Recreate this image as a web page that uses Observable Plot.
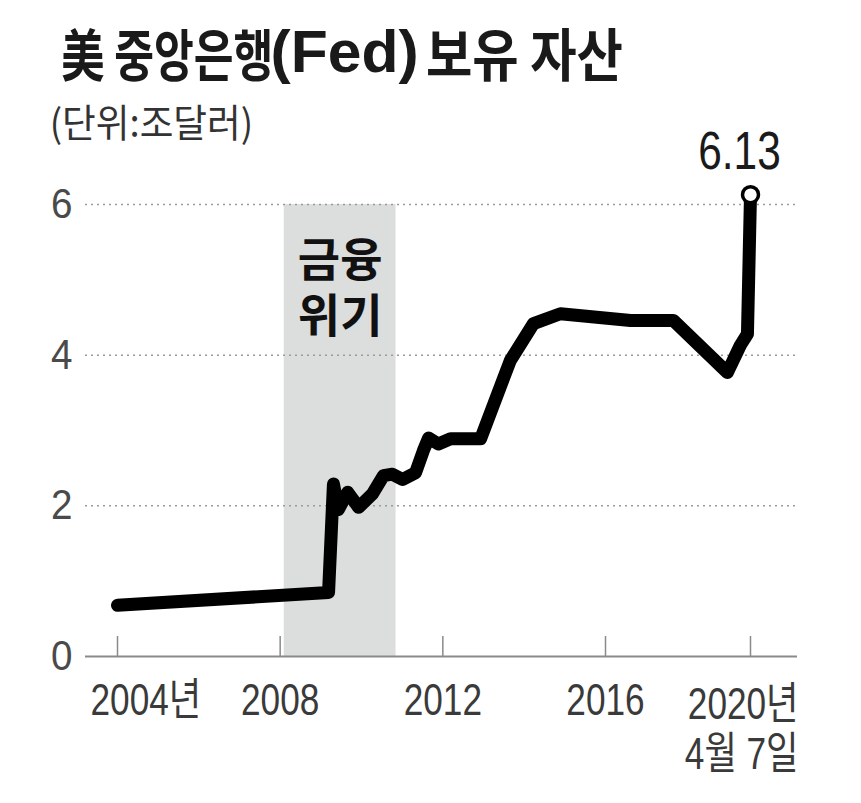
<!DOCTYPE html>
<html><head><meta charset="utf-8">
<script src="https://cdn.jsdelivr.net/npm/d3@7"></script>
<script src="https://cdn.jsdelivr.net/npm/@observablehq/plot@0.6"></script>
<style>
body{margin:0;background:#fff;}
#chart{width:861px;height:803px;overflow:hidden;}
</style></head>
<body>
<div id="chart"></div>
<script>
// ---- data ----
const years  = [2004.00, 2009.19, 2009.31, 2009.43, 2009.66, 2009.93, 2010.27, 2010.54, 2010.76, 2011.01, 2011.33, 2011.52, 2011.65, 2011.89, 2012.19, 2012.93, 2013.47, 2013.66, 2014.23, 2014.89, 2016.74, 2018.00, 2019.59, 2019.97, 2020.18, 2020.27];
const assets = [0.68, 0.85, 2.29, 1.95, 2.18, 1.98, 2.16, 2.40, 2.42, 2.35, 2.44, 2.73, 2.90, 2.82, 2.89, 2.89, 3.66, 3.93, 4.42, 4.55, 4.46, 4.46, 3.77, 4.13, 4.28, 6.13];
const yTicks = [0, 2, 4, 6];
const gridValues = [2, 4, 6];
const tickYears = [2004, 2008, 2012, 2016, 2020.27];
const tickLabels = ["2004년", "2008", "2012", "2016", "2020년\n4월 7일"];
const crisisStart = [2008.1];
const crisisEnd = [2010.85];
const crisisLabel = ["금융\n위기"];
const crisisLabelY = [4.92];
const titleParts = ["美 중앙은행", "(Fed)", "보유 자산"];
const subtitle = "(단위:조달러)";

const series = years.map((x, i) => ({x, y: assets[i]}));
const last = series[series.length - 1];
const ticks = tickYears.map((x, i) => ({x, label: tickLabels[i]}));
const crisis = crisisStart.map((s, i) => ({s, e: crisisEnd[i], label: crisisLabel[i], ly: crisisLabelY[i]}));

const sans = "'Liberation Sans', 'Noto Sans CJK KR', sans-serif";
const plot = Plot.plot({
  width: 861,
  height: 803,
  marginTop: 204,
  marginBottom: 147,
  marginLeft: 85,
  marginRight: 64,
  style: {background: "#fff", overflow: "visible"},
  x: {type: "linear", domain: [2004, 2016, 2020.27], range: [117, 605, 750], axis: null},
  y: {domain: [0, 6], axis: null},
  marks: [
    Plot.rect(crisis, {x1: "s", x2: "e", y1: 0, y2: 6, fill: "#dcdddd"}),
    Plot.ruleY(gridValues, {stroke: "#9a9a9a", strokeWidth: 1.5, strokeDasharray: "2,4"}),
    Plot.ruleY([0], {stroke: "#8a8a8a", strokeWidth: 1.8}),
    Plot.ruleX(ticks, {x: "x", y1: 0, y2: 0, insetTop: -20, stroke: "#8a8a8a", strokeWidth: 1.5}),
    // text mark 0: y labels
    Plot.text(yTicks, {y: d => d, text: d => String(d), frameAnchor: "left", textAnchor: "end", dx: -13,
      fontFamily: sans, fontSize: 42, fill: "#4a4a4a"}),
    // text marks 1-3: x labels
    Plot.text(ticks.slice(0, 1), {x: "x", y: 0, text: "label", textAnchor: "start", dx: -27, dy: 27, lineAnchor: "top",
      fontFamily: sans, fontSize: 44, fill: "#3a3a3a"}),
    Plot.text(ticks.slice(1, -1), {x: "x", y: 0, text: "label", textAnchor: "middle", dy: 27, lineAnchor: "top",
      fontFamily: sans, fontSize: 44, fill: "#3a3a3a"}),
    Plot.text(ticks.slice(-1), {x: "x", y: 0, text: "label", textAnchor: "end", dx: 48, dy: 27, lineAnchor: "top", lineHeight: 1.14,
      fontFamily: sans, fontSize: 44, fill: "#3a3a3a"}),
    // text mark 4: crisis label
    Plot.text(crisis, {x: d => (d.s + d.e) / 2, y: "ly", text: "label", lineHeight: 1.22,
      fontFamily: "'Noto Sans CJK KR', sans-serif", fontWeight: 700, fontSize: 46, fill: "#111"}),
    Plot.line(series, {x: "x", y: "y", stroke: "#000", strokeWidth: 13, strokeLinejoin: "round", strokeLinecap: "round"}),
    Plot.dot([last], {x: "x", y: "y", r: 8, fill: "#fff", stroke: "#000", strokeWidth: 3.5}),
    // text mark 5: end value label
    Plot.text([last], {x: "x", y: "y", text: d => String(d.y), dx: -11, dy: -43,
      fontFamily: sans, fontSize: 53, fill: "#1a1a1a"})
  ]
});

// condense digit labels horizontally, like the reference's narrow typeface
const textGroups = plot.querySelectorAll('g[aria-label="text"]');
function condense(idx, sx) {
  const g = textGroups[idx];
  if (!g) return;
  g.querySelectorAll("text").forEach(t => {
    const tr = t.getAttribute("transform");
    if (tr) t.setAttribute("transform", `${tr} scale(${sx},1)`);
  });
}
condense(0, 0.92);
condense(1, 0.8); condense(2, 0.8); condense(3, 0.8);
condense(5, 0.8);

// title and subtitle: fit each text's ink into the box it takes in the reference
const ctx = document.createElement("canvas").getContext("2d");
const SVGNS = "http://www.w3.org/2000/svg";
function fitText(text, family, weight, box, fill) {
  ctx.font = `${weight} 100px ${family}`;
  ctx.textAlign = "left";
  const m = ctx.measureText(text);
  const asc = m.actualBoundingBoxAscent, desc = m.actualBoundingBoxDescent;
  const L = m.actualBoundingBoxLeft, R = m.actualBoundingBoxRight;
  const size = 100 * (box.bottom - box.top) / (asc + desc);
  const k = size / 100;
  const sx = (box.x1 - box.x0) / (k * (L + R));
  const x = box.x0 + sx * k * L;
  const y = box.bottom - k * desc;
  const t = document.createElementNS(SVGNS, "text");
  t.setAttribute("transform", `translate(${x},${y}) scale(${sx},1)`);
  t.setAttribute("text-anchor", "start");
  t.setAttribute("font-family", family);
  t.setAttribute("font-weight", weight);
  t.setAttribute("font-size", size);
  t.setAttribute("fill", fill);
  t.style.whiteSpace = "pre";
  t.textContent = text;
  plot.appendChild(t);
}
const cjk = "'Noto Sans CJK KR'";
fitText(titleParts[0], cjk, 700, {x0: 62, x1: 270, top: 28, bottom: 82}, "#1a1a1a");
fitText(titleParts[1], "'Liberation Sans'", 700, {x0: 273, x1: 416, top: 29, bottom: 84}, "#1a1a1a");
fitText(titleParts[2], cjk, 700, {x0: 428, x1: 622, top: 28, bottom: 82}, "#1a1a1a");
fitText(subtitle, cjk, 400, {x0: 53, x1: 250, top: 105, bottom: 145}, "#333");

document.getElementById("chart").appendChild(plot);
</script>
</body></html>
